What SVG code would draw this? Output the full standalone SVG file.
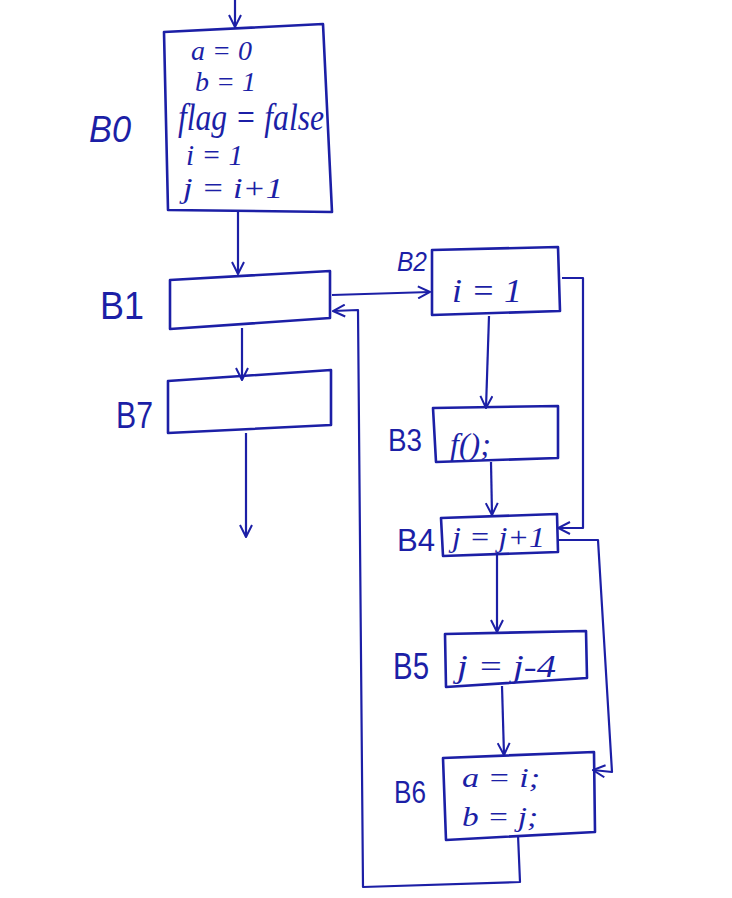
<svg xmlns="http://www.w3.org/2000/svg" width="732" height="898" viewBox="0 0 732 898">
<style>
.bx{fill:none;stroke:#1c1fa6;stroke-width:2.6;stroke-linejoin:round}
.ln{fill:none;stroke:#1c1fa6;stroke-width:2.2;stroke-linejoin:round}
.lbl{font-family:"Liberation Sans",sans-serif;fill:#1c1fa6}
.code{font-family:"Liberation Serif",serif;font-style:italic;fill:#1c1fa6}
</style>
<defs>
<marker id="arr" viewBox="0 0 14 14" refX="13" refY="7" markerWidth="14" markerHeight="14" orient="auto" markerUnits="userSpaceOnUse">
<path d="M1,1 L13,7 L1,13" fill="none" stroke="#1c1fa6" stroke-width="2"/>
</marker>
</defs>
<rect width="732" height="898" fill="#ffffff"/>
<g id="connectors">
<path class="ln" d="M235,0 L235,27" marker-end="url(#arr)"/>
<path class="ln" d="M238,212 L238,274" marker-end="url(#arr)"/>
<path class="ln" d="M242,328 L242,380" marker-end="url(#arr)"/>
<path class="ln" d="M246,433 L246,537" marker-end="url(#arr)"/>
<path class="ln" d="M332,295 L430,292" marker-end="url(#arr)"/>
<path class="ln" d="M518,835 L520,882 L363,887 L358,310 L333,311" marker-end="url(#arr)"/>
<path class="ln" d="M489,316 L486,408" marker-end="url(#arr)"/>
<path class="ln" d="M562,278 L583,278 L583,528 L558,528" marker-end="url(#arr)"/>
<path class="ln" d="M491,462 L492,515" marker-end="url(#arr)"/>
<path class="ln" d="M558,540 L598,540 L612,772 L593,770" marker-end="url(#arr)"/>
<path class="ln" d="M497,555 L497,632" marker-end="url(#arr)"/>
<path class="ln" d="M502,686 L504,755" marker-end="url(#arr)"/>
</g>
<g id="B0">
<path class="bx" d="M164,32 L323,24 L332,212 L168,210 Z"/>
<text class="lbl" x="89" y="142" style="font-size:36px;font-style:italic" textLength="42" lengthAdjust="spacingAndGlyphs">B0</text>
<text class="code" x="191" y="60" style="font-size:28px">a = 0</text>
<text class="code" x="195" y="91" style="font-size:28px">b = 1</text>
<text class="code" x="178" y="130" style="font-size:37px" textLength="146" lengthAdjust="spacingAndGlyphs">flag = false</text>
<text class="code" x="186" y="165" style="font-size:30px" textLength="57" lengthAdjust="spacingAndGlyphs">i = 1</text>
<text class="code" x="183" y="198" style="font-size:30px" textLength="100" lengthAdjust="spacingAndGlyphs">j = i+1</text>
</g>
<g id="B1">
<path class="bx" d="M170,280 L330,271 L330,318 L170,329 Z"/>
<text class="lbl" x="100" y="319" style="font-size:38px" textLength="44" lengthAdjust="spacingAndGlyphs">B1</text>
</g>
<g id="B7">
<path class="bx" d="M168,381 L331,370 L331,425 L168,433 Z"/>
<text class="lbl" x="116" y="428" style="font-size:36px" textLength="37" lengthAdjust="spacingAndGlyphs">B7</text>
</g>
<g id="B2">
<path class="bx" d="M432,250 L558,247 L560,311 L432,315 Z"/>
<text class="lbl" x="397" y="271" style="font-size:28px;font-style:italic" textLength="30" lengthAdjust="spacingAndGlyphs">B2</text>
<text class="code" x="452" y="302" style="font-size:34px" textLength="70" lengthAdjust="spacingAndGlyphs">i = 1</text>
</g>
<g id="B3">
<path class="bx" d="M433,408 L558,406 L558,458 L436,462 Z"/>
<text class="lbl" x="388" y="451" style="font-size:32px" textLength="34" lengthAdjust="spacingAndGlyphs">B3</text>
<text class="code" x="450" y="455" style="font-size:32px">f();</text>
</g>
<g id="B4">
<path class="bx" d="M441,518 L557,514 L558,552 L443,556 Z"/>
<text class="lbl" x="397" y="551" style="font-size:32px" textLength="38" lengthAdjust="spacingAndGlyphs">B4</text>
<text class="code" x="452" y="547" style="font-size:30px" textLength="93" lengthAdjust="spacingAndGlyphs">j = j+1</text>
</g>
<g id="B5">
<path class="bx" d="M445,634 L586,631 L587,678 L446,687 Z"/>
<text class="lbl" x="393" y="679" style="font-size:36px" textLength="36" lengthAdjust="spacingAndGlyphs">B5</text>
<text class="code" x="457" y="677" style="font-size:32px" textLength="99" lengthAdjust="spacingAndGlyphs">j = j-4</text>
</g>
<g id="B6">
<path class="bx" d="M443,758 L594,752 L595,832 L446,840 Z"/>
<text class="lbl" x="394" y="803" style="font-size:32px" textLength="32" lengthAdjust="spacingAndGlyphs">B6</text>
<text class="code" x="462" y="787" style="font-size:28px" textLength="78" lengthAdjust="spacingAndGlyphs">a = i;</text>
<text class="code" x="462" y="826" style="font-size:28px" textLength="76" lengthAdjust="spacingAndGlyphs">b = j;</text>
</g>
</svg>
